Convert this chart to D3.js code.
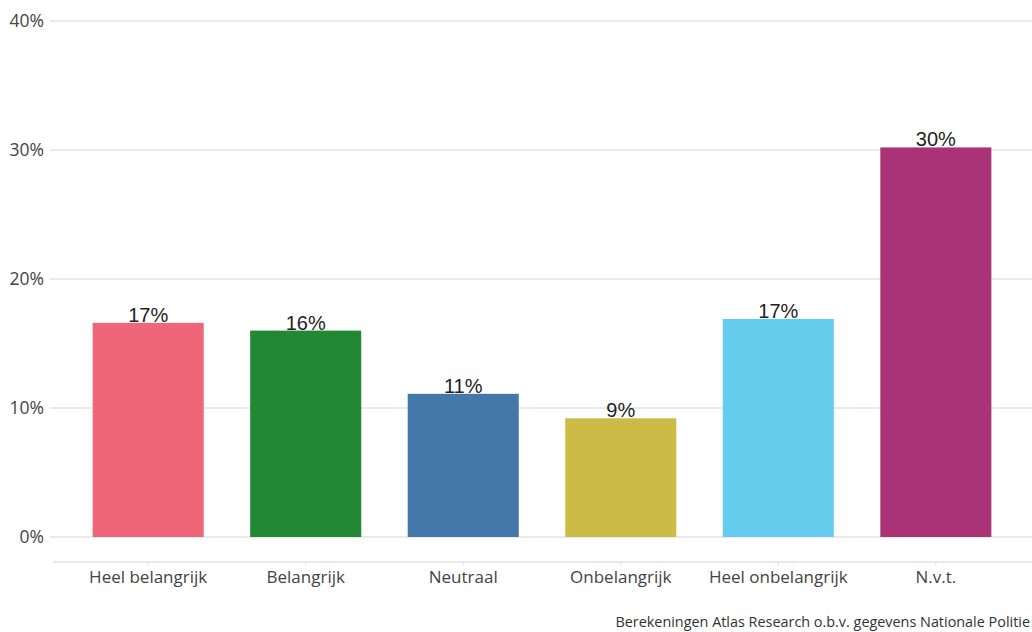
<!DOCTYPE html>
<html>
<head>
<meta charset="utf-8">
<script src="https://cdn.jsdelivr.net/npm/d3@7"></script>
<style>
  body { margin: 0; background: #fff; }
  svg text { font-family: "Open Sans", sans-serif; }
</style>
</head>
<body>
<div id="chart"></div>
<script>
var categories = ['Heel belangrijk', 'Belangrijk', 'Neutraal', 'Onbelangrijk', 'Heel onbelangrijk', 'N.v.t.']
  , values = [16.6, 16.0, 11.1, 9.2, 16.9, 30.2]
  , labels = ['17%', '16%', '11%', '9%', '17%', '30%']
  , colors = ['#EE6677', '#228833', '#4477AA', '#CCBB44', '#66CCEE', '#AA3377']
  , yTicks = [0, 10, 20, 30, 40]
  , caption = 'Berekeningen Atlas Research o.b.v. gegevens Nationale Politie'
  ;

var w = 1032
  , h = 632
  , svg = d3.select('#chart').append('svg').attr('width', w).attr('height', h)
  , x = d3.scaleBand().domain(categories).range([69, 1015]).paddingInner(0.295).paddingOuter(0.15)
  , y = d3.scaleLinear().domain([0, 40]).range([537, 21])
  ;

// gridlines + y labels
svg.append('g').selectAll('line').data(yTicks).enter().append('line')
  .attr('x1', 50).attr('x2', w)
  .attr('y1', function (d) { return y(d); }).attr('y2', function (d) { return y(d); })
  .attr('stroke', '#e3e3e3').attr('stroke-width', 1.5);

svg.append('g').selectAll('text').data(yTicks).enter().append('text')
  .attr('x', 44).attr('y', function (d) { return y(d); })
  .attr('dy', '0.35em').attr('text-anchor', 'end')
  .attr('font-size', 17.5).attr('fill', '#444')
  .text(function (d) { return d + '%'; });

// bars
svg.append('g').selectAll('rect').data(values).enter().append('rect')
  .attr('x', function (d, i) { return x(categories[i]); })
  .attr('width', x.bandwidth())
  .attr('y', function (d) { return y(d); })
  .attr('height', function (d) { return y(0) - y(d); })
  .style('fill', function (d, i) { return colors[i]; });

// value labels
svg.append('g').selectAll('text').data(values).enter().append('text')
  .attr('x', function (d, i) { return x(categories[i]) + x.bandwidth() / 2; })
  .attr('y', function (d) { return y(d) - 1; })
  .attr('text-anchor', 'middle')
  .attr('font-size', 20).attr('fill', '#222')
  .style('font-family', '"Liberation Sans", Arial, sans-serif')
  .text(function (d, i) { return labels[i]; });

// x axis
var xAxis = svg.append('g').attr('transform', 'translate(0,562)')
  .call(d3.axisBottom(x).tickSize(4).tickPadding(5));
xAxis.select('.domain').attr('d', 'M53,0H' + w).attr('stroke', '#e3e3e3').attr('stroke-width', 1.5);
xAxis.selectAll('.tick line').attr('stroke', '#e3e3e3');
xAxis.selectAll('.tick text').attr('font-size', 17).attr('fill', '#444')
  .style('font-family', '"Open Sans", sans-serif');

svg.append('text')
  .attr('x', 1030).attr('y', 627).attr('text-anchor', 'end')
  .attr('font-size', 14.4).attr('fill', '#333')
  .text(caption);
</script>
</body>
</html>
